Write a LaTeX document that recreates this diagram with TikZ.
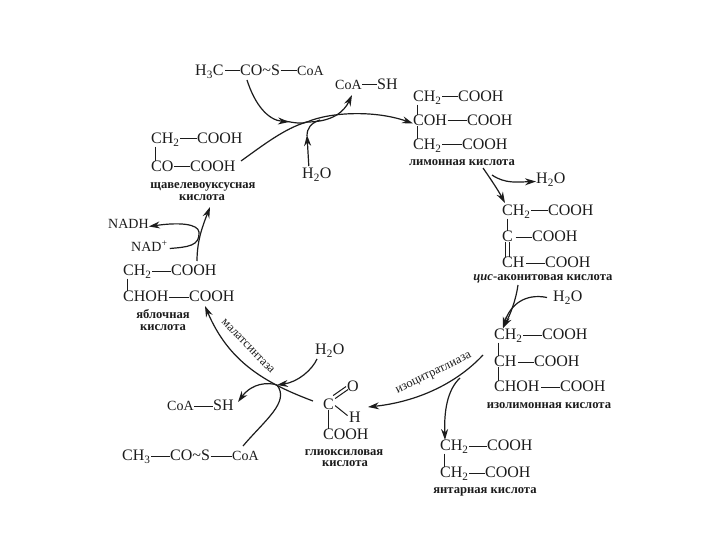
\documentclass[tikz,border=0pt]{standalone}
\usepackage{fontspec}
\setmainfont{Liberation Serif}
\usetikzlibrary{arrows.meta}
\definecolor{ink}{HTML}{1C1C1C}
\newcommand{\sbs}[1]{\textsubscript{#1}}
\tikzset{
  chem/.style={anchor=mid west,inner sep=0pt,yshift=-2.5pt,font=\fontsize{16}{16}\selectfont,text=ink},
  small/.style={anchor=center,inner sep=0pt,yshift=-1.5pt,font=\fontsize{12.6}{12.6}\selectfont\bfseries,text=ink},
  enzyme/.style={anchor=center,inner sep=0pt,font=\fontsize{12.5}{12.5}\selectfont,text=ink},
  bond/.style={draw=ink,line width=1pt},
  hbond/.style={bond,shorten <=0.5pt,shorten >=0.5pt,transform canvas={yshift=2.5pt}},
  curve/.style={draw=ink,line width=1.2pt},
  arrow/.style={curve,-{Stealth[length=11pt,width=7pt]}}
}
\begin{document}
\begin{tikzpicture}[x=1pt,y=-1pt]
\useasboundingbox[fill=white] (0,0) rectangle (720,540);
% acetyl-CoA (top)
\node[chem] (a1) at (195,71) {H\sbs{3}C};
\node[chem] (a2) at (240,71) {CO\textasciitilde S};
\node[chem] (a3) at (297,71) {\fontsize{14}{14}\selectfont CoA};
\draw[hbond] (a1.mid east)++(1,0) -- (a2.mid west);
\draw[hbond] (a2.mid east) -- (a3.mid west);
% CoA-SH (top)
\node[chem] (b1) at (335,85) {\fontsize{14}{14}\selectfont CoA};
\node[chem] (b2) at (377,85) {SH};
\draw[hbond] (b1.mid east) -- (b2.mid west);
% citric acid
\node[chem] (c1) at (413,97) {CH\sbs{2}};
\node[chem] (c2) at (458,97) {COOH};
\node[chem] (c3) at (413,121) {COH};
\node[chem] (c4) at (467,121) {COOH};
\node[chem] (c5) at (413,145) {CH\sbs{2}};
\node[chem] (c6) at (462,145) {COOH};
\node[small] (c7) at (462,161) {лимонная кислота};
\draw[hbond] (c1.mid east) -- (c2.mid west);
\draw[hbond] (c3.mid east) -- (c4.mid west);
\draw[hbond] (c5.mid east) -- (c6.mid west);
\draw[bond] ([xshift=4pt]c1.south west) -- ([xshift=4pt]c3.north west);
\draw[bond] ([xshift=4pt]c3.south west) -- ([xshift=4pt]c5.north west);
% cis-aconitic acid
\node[chem] (d1) at (502,211) {CH\sbs{2}};
\node[chem] (d2) at (548,211) {COOH};
\node[chem] (d3) at (502,237) {C};
\node[chem] (d4) at (532,237) {COOH};
\node[chem] (d5) at (502,263) {CH};
\node[chem] (d6) at (545,263) {COOH};
\node[small] (d7) at (543,277) {\textit{цис}-аконитовая кислота};
\draw[hbond] (d1.mid east) -- (d2.mid west);
\draw[hbond] (d3.mid east)++(2,0) -- (d4.mid west);
\draw[hbond] (d5.mid east)++(1,0) -- (d6.mid west);
\draw[bond] ([xshift=5pt]d1.south west) -- ([xshift=5pt]d3.north west);
\draw[bond] ([xshift=3pt]d3.south west) -- ([xshift=3pt]d5.north west);
\draw[bond] ([xshift=7pt]d3.south west) -- ([xshift=7pt]d5.north west);
% isocitric acid
\node[chem] (e1) at (494,335) {CH\sbs{2}};
\node[chem] (e2) at (542,335) {COOH};
\node[chem] (e3) at (494,362) {CH};
\node[chem] (e4) at (534,362) {COOH};
\node[chem] (e5) at (494,387) {CHOH};
\node[chem] (e6) at (560,387) {COOH};
\node[small] (e7) at (549,404) {изолимонная кислота};
\draw[hbond] (e1.mid east) -- (e2.mid west);
\draw[hbond] (e3.mid east)++(1,0) -- (e4.mid west);
\draw[hbond] (e5.mid east)++(1,0) -- (e6.mid west);
\draw[bond] ([xshift=4pt]e1.south west) -- ([xshift=4pt]e3.north west);
\draw[bond] ([xshift=4pt]e3.south west) -- ([xshift=4pt]e5.north west);
% succinic acid
\node[chem] (f1) at (440,446) {CH\sbs{2}};
\node[chem] (f2) at (487,446) {COOH};
\node[chem] (f3) at (440,473) {CH\sbs{2}};
\node[chem] (f4) at (485,473) {COOH};
\node[small] (f5) at (485,490) {янтарная кислота};
\draw[hbond] (f1.mid east) -- (f2.mid west);
\draw[hbond] (f3.mid east) -- (f4.mid west);
\draw[bond] ([xshift=4pt]f1.south west) -- ([xshift=4pt]f3.north west);
% glyoxylic acid
\node[chem] (g1) at (323,405) {C};
\node[chem] (g2) at (347,387) {O};
\node[chem] (g3) at (349,418) {H};
\node[chem] (g4) at (323,435) {COOH};
\node[small] (g5) at (344,451) {глиоксиловая};
\node[small] (g6) at (345,462) {кислота};
\draw[bond] ([xshift=-1pt,yshift=9pt]g1.east) -- ([xshift=-1pt]g2.west);
\draw[bond] ([xshift=1pt,yshift=6pt]g1.east) -- ([xshift=1pt,yshift=-3pt]g2.west);
\draw[bond] ([xshift=1pt,yshift=-1pt]g1.east) -- ([xshift=-1.5pt,yshift=2pt]g3.west);
\draw[bond] ([xshift=5pt]g1.south west) -- ([xshift=5pt]g4.north west);
% acetyl-CoA (bottom)
\node[chem] (h1) at (122,456) {CH\sbs{3}};
\node[chem] (h2) at (170,456) {CO\textasciitilde S};
\node[chem] (h3) at (232,456) {\fontsize{14}{14}\selectfont CoA};
\draw[hbond] (h1.mid east) -- (h2.mid west);
\draw[hbond] (h2.mid east) -- (h3.mid west);
% CoA-SH (bottom)
\node[chem] (i1) at (167,406) {\fontsize{14}{14}\selectfont CoA};
\node[chem] (i2) at (213,406) {SH};
\draw[hbond] (i1.mid east) -- (i2.mid west);
% malic acid
\node[chem] (m1) at (123,271) {CH\sbs{2}};
\node[chem] (m2) at (171,271) {COOH};
\node[chem] (m3) at (123,297) {CHOH};
\node[chem] (m4) at (189,297) {COOH};
\node[small] (m5) at (163,313) {яблочная};
\node[small] (m6) at (163,326) {кислота};
\draw[hbond] (m1.mid east) -- (m2.mid west);
\draw[hbond] (m3.mid east) -- (m4.mid west);
\draw[bond] ([xshift=4pt]m1.south west) -- ([xshift=4pt]m3.north west);
% oxaloacetic acid
\node[chem] (o1) at (151,139) {CH\sbs{2}};
\node[chem] (o2) at (197,139) {COOH};
\node[chem] (o3) at (151,167) {CO};
\node[chem] (o4) at (190,167) {COOH};
\node[small] (o5) at (203,185) {щавелевоуксусная};
\node[small] (o6) at (202,196) {кислота};
\draw[hbond] (o1.mid east) -- (o2.mid west);
\draw[hbond] (o3.mid east) -- (o4.mid west);
\draw[bond] ([xshift=4pt]o1.south west) -- ([xshift=4pt]o3.north west);
% side species
\node[chem] (w1) at (302,174) {H\sbs{2}O};
\node[chem] (w2) at (536,179) {H\sbs{2}O};
\node[chem] (w3) at (553,297) {H\sbs{2}O};
\node[chem] (w4) at (315,350) {H\sbs{2}O};
\node[chem,font=\fontsize{14}{14}\selectfont] (n1) at (108,224) {NADH};
\node[chem,font=\fontsize{14}{14}\selectfont] (n2) at (131,247) {NAD\textsuperscript{+}};
% enzyme labels
\node[enzyme,rotate=26] (z1) at (434,374) {изоцитратлиаза};
\node[enzyme,rotate=-46] (z2) at (248,346) {малатсинтаза};
% junctions
\coordinate (j1) at (307,122);
\coordinate (j2) at (492,175);
\coordinate (j3) at (277,385);
\coordinate (j4) at (460,378);
\coordinate (j5) at (199,232);
% citrate synthase
\draw[curve] (241,161) .. controls (262,146) and (285,128) .. (j1);
\draw[arrow] (247,80) .. controls (255,105) and (268,120) .. (289,122);
\draw[curve] (285,121) .. controls (295,123) and (302,124) .. (j1);
\draw[arrow] (j1) .. controls (330,112) and (375,110) .. (c3.mid west);
\draw[arrow] (j1) .. controls (332,122) and (344,112) .. (352,95);
\draw[arrow] (w1.north)++(-8,-2) -- (307,135);
\draw[curve] (307,136) .. controls (307,128) and (311,123) .. (320,120);
% citrate -> aconitate
\draw[arrow] (483,168) .. controls (490,178) and (498,190) .. (505,203);
\draw[arrow] (j2) .. controls (505,184) and (518,182) .. (w2.mid west);
% aconitate -> isocitrate
\draw[arrow] (518,285) .. controls (516,300) and (510,315) .. (503,328);
\draw[arrow] (w3.mid west)++(-6,-2) .. controls (525,293) and (510,305) .. (503,328);
% isocitrate lyase
\draw[arrow] (483,355) .. controls (455,385) and (415,402) .. (368,407);
\draw[arrow] (j4) .. controls (447,390) and (444,412) .. (445,440);
% malate synthase
\draw[arrow] (313,401) .. controls (262,382) and (228,360) .. (205,306);
\draw[arrow] (317,359) .. controls (312,370) and (298,382) .. (j3);
\draw[arrow] (j3) .. controls (268,382) and (252,383) .. (238,402);
\draw[curve] (243,446) .. controls (265,420) and (290,402) .. (j3);
% malate -> oxaloacetate
\draw[arrow] (197,261) .. controls (197,240) and (203,225) .. (210,207);
\draw[curve] (n2.mid east)++(2,-1) .. controls (188,247) and (200,246) .. (j5);
\draw[arrow] (j5) .. controls (198,224) and (180,222) .. (n1.mid east);
\end{tikzpicture}
\end{document}
